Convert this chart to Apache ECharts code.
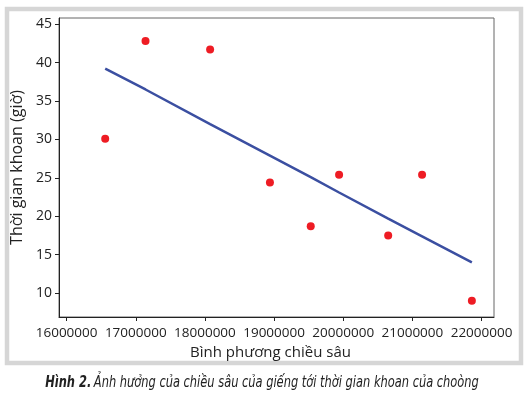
<!DOCTYPE html>
<html>
<head>
<meta charset="utf-8">
<script src="https://cdn.jsdelivr.net/npm/echarts@6/dist/echarts.min.js"></script>
<style>
  html, body { margin: 0; padding: 0; background: #fff; }
  #chart { width: 528px; height: 397px; }
</style>
</head>
<body>
<div id="chart"></div>
<script>
// số liệu
const depthSq = [16558000, 17141000, 18075000, 18940000, 19530000, 19940000, 20650000, 21140000, 21860000]
const drillTime = [30.1, 42.8, 41.7, 24.4, 18.7, 25.4, 17.5, 25.4, 9.0]
const fitTime = [39.2, 36.5, 32.0, 27.9, 25.1, 23.1, 19.7, 17.4, 14.0]
const xTicks = [16000000, 17000000, 18000000, 19000000, 20000000, 21000000, 22000000]
const yTicks = [10, 15, 20, 25, 30, 35, 40, 45]

const font = '"Open Sans", "Noto Sans", sans-serif'
const captionFont = '"Liberation Sans Narrow", "DejaVu Sans Condensed", "Open Sans", sans-serif'
const chart = echarts.init(document.getElementById('chart'))

chart.setOption({
  backgroundColor: '#ffffff',
  animation: false,
  grid: {
    left: 59,
    top: 18,
    right: 34,
    bottom: 80,
    show: true,
    borderColor: '#666',
    borderWidth: 1,
  },
  xAxis: {
    type: 'value',
    min: 15890000,
    max: 22180000,
    name: 'Bình phương chiều sâu',
    nameLocation: 'middle',
    nameGap: 28,
    nameTextStyle: { fontFamily: font, fontSize: 15, color: '#222', padding: [0, 12, 0, 0] },
    axisLine: { lineStyle: { color: '#222' } },
    axisTick: { show: true, length: 4, customValues: xTicks, lineStyle: { color: '#222' } },
    axisLabel: {
      customValues: xTicks,
      margin: 9,
      fontFamily: font,
      fontSize: 13.5,
      color: '#222',
      formatter: (v) => String(v),
    },
    splitLine: { show: false },
  },
  yAxis: {
    type: 'value',
    min: 6.9,
    max: 45.8,
    name: 'Thời gian khoan (giờ)',
    nameLocation: 'middle',
    nameGap: 30,
    nameTextStyle: { fontFamily: font, fontSize: 16, color: '#222' },
    axisLine: { show: true, lineStyle: { color: '#222' } },
    axisTick: { show: true, length: 4, customValues: yTicks, lineStyle: { color: '#222' } },
    axisLabel: { customValues: yTicks, margin: 7, fontFamily: font, fontSize: 14, color: '#222' },
    splitLine: { show: false },
  },
  series: [
    {
      type: 'line',
      data: depthSq.map((x, i) => [x, fitTime[i]]),
      showSymbol: false,
      lineStyle: { color: '#3b4fa1', width: 2.5 },
      z: 2,
    },
    {
      type: 'scatter',
      data: depthSq.map((x, i) => [x, drillTime[i]]),
      symbolSize: 8,
      itemStyle: { color: '#ee1c24', opacity: 1 },
      z: 3,
    },
  ],
  graphic: [
    {
      type: 'rect',
      shape: { x: 7, y: 9, width: 514, height: 354 },
      style: { fill: 'none', stroke: '#d6d6d6', lineWidth: 4.5 },
      silent: true,
      z: -1,
    },
    {
      type: 'text',
      x: 262,
      y: 383,
      scaleX: 0.794,
      style: {
        text: '{b|Hình 2.} {i|Ảnh hưởng của chiều sâu của giếng tới thời gian khoan của choòng}',
        align: 'center',
        verticalAlign: 'middle',
        rich: {
          b: { fontFamily: captionFont, fontSize: 16, fontWeight: 'bold', fontStyle: 'italic', fill: '#222' },
          i: { fontFamily: captionFont, fontSize: 16, fontStyle: 'italic', fill: '#222' },
        },
      },
    },
  ],
})
</script>
</body>
</html>
